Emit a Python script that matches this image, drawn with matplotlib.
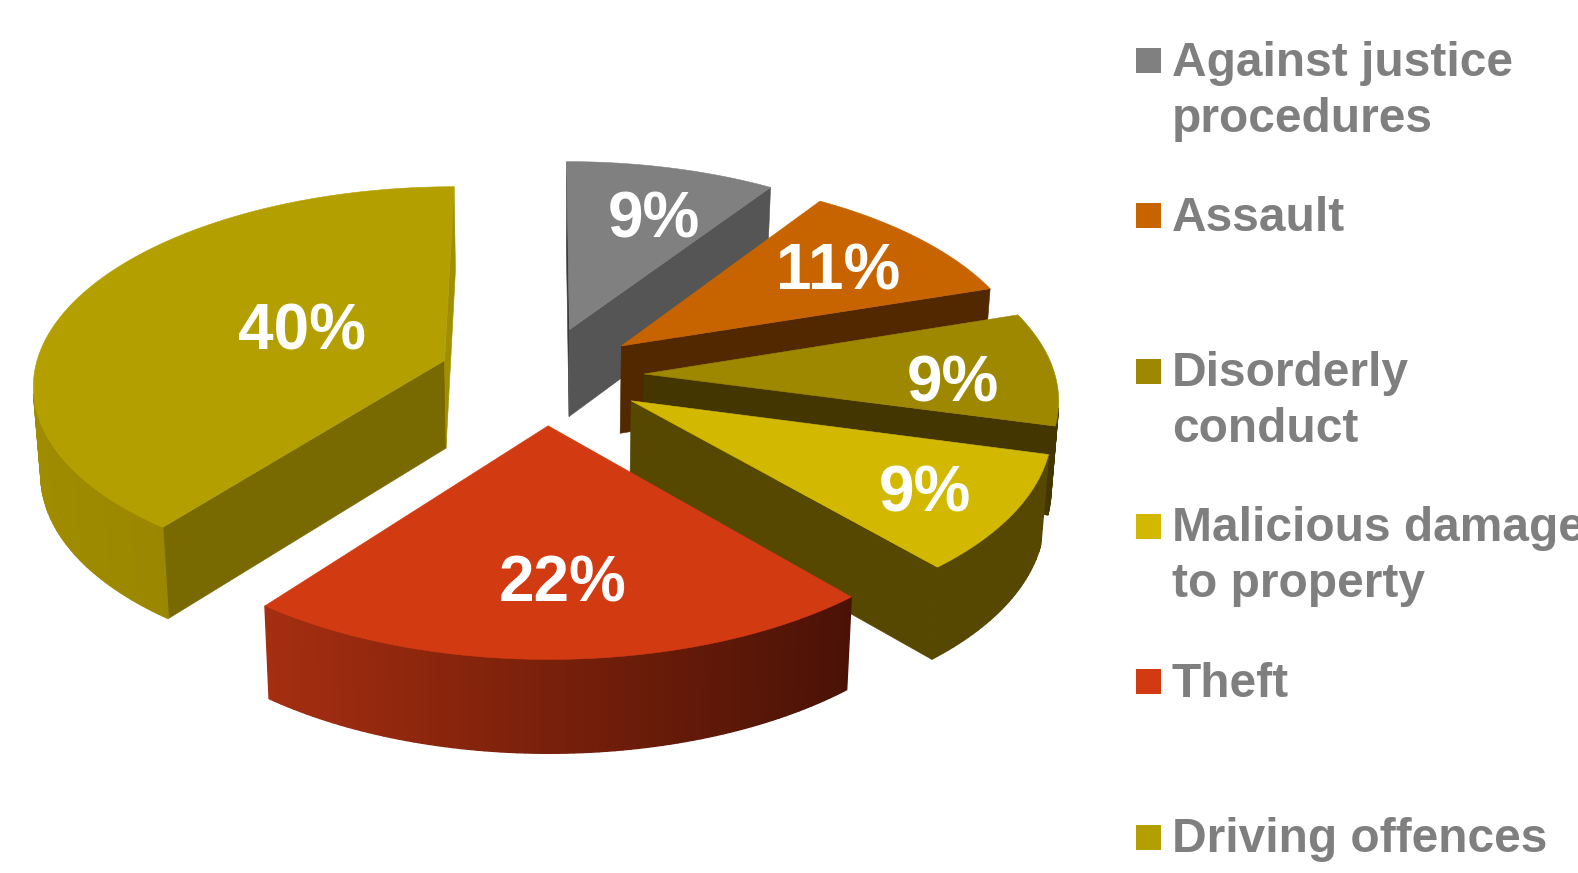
import numpy as np
import matplotlib
matplotlib.use("Agg")
import matplotlib.pyplot as plt
from matplotlib.colors import to_rgb
from matplotlib.patches import Polygon, Rectangle

W, H = 1578, 873

categories = [
    "Against justice\nprocedures",
    "Assault",
    "Disorderly\nconduct",
    "Malicious damage\nto property",
    "Theft",
    "Driving offences",
]
shares = [9, 11, 9, 9, 22, 40]

top_colors = ["#808080", "#C86400", "#9E8800", "#D2B900", "#D23A12", "#B3A000"]
start_face_colors = ["#3A3A3A", "#522800", "#433600", "#564800", "#4A1206", "#786A00"]
end_face_colors = ["#555555", "#522800", "#433600", "#564800", "#A42C10", "#A09000"]
rim_left_colors = ["#555555", "#522800", "#433600", "#564800", "#A62E10", "#A08C00"]
rim_right_colors = ["#555555", "#522800", "#433600", "#564800", "#4A1206", "#8E7D00"]

# pixel centres of the percentage labels
label_xy = [(654, 220), (838, 273), (953, 384), (925, 494), (563, 584), (302, 333)]

# perspective camera for the tilted pie
X0, Y0 = 541.5, 375.5
SCALE_X, SCALE_Y = 411.0, 196.0
DEPTH = 0.11
EXPLODE = 0.25
THICK = 88.0
THICK_SHRINK = 0.985
LEGEND_SIZE = 34.5
# clockwise drag of the rim at each slice boundary, in degrees
LENS_TWIST = [0, 1.2, -0.2, 0.6, 2.3, 1.7, 0]

edges = np.radians(np.cumsum([0] + shares) * 360 / sum(shares))


def project(u, v, z=0.0):
    w = 1 + DEPTH * v
    x = u * SCALE_X / w
    y = -v * SCALE_Y / w + z * THICK / (1 + 0.05 * v)
    x = x * (1 - (1 - THICK_SHRINK) * z)
    return X0 + x, Y0 + y


def slice_point(theta, r, mid):
    # angles run clockwise from the back of the pie
    theta = theta + np.radians(np.interp(theta, edges, LENS_TWIST))
    u = EXPLODE * np.sin(mid) + r * np.sin(theta)
    v = EXPLODE * np.cos(mid) + r * np.cos(theta)
    return u, v


def draw_quad(ax, a, b, color, zorder, lw=0.4):
    pts = [project(*a), project(*b), project(*b, 1), project(*a, 1)]
    xs, ys = zip(*pts)
    area = sum(xs[i] * ys[(i + 1) % 4] - xs[(i + 1) % 4] * ys[i] for i in range(4))
    if area >= 0:
        return
    ax.add_patch(Polygon(pts, closed=True, fc=color, ec=color, lw=lw, zorder=zorder))


def draw_slice(ax, i, start, end):
    mid = (start + end) / 2
    apex = slice_point(0, 0, mid)
    thetas = np.linspace(start, end, max(int(np.degrees(end - start)), 8) + 1)
    rim = [slice_point(t, 1, mid) for t in thetas]
    z = 10 + i

    draw_quad(ax, apex, rim[0], start_face_colors[i], z)
    draw_quad(ax, rim[-1], apex, end_face_colors[i], z)

    # outer wall, shaded strip by strip from left to right on screen
    left = np.array(to_rgb(rim_left_colors[i]))
    right = np.array(to_rgb(rim_right_colors[i]))
    xs = [project(*p)[0] for p in rim]
    x_min, x_max = min(xs), max(xs)
    for a, b in zip(rim[:-1], rim[1:]):
        t = (project(*a)[0] - x_min) / max(x_max - x_min, 1)
        draw_quad(ax, a, b, tuple(left + (right - left) * t), z, lw=1.0)

    outline = [project(*apex)] + [project(*p) for p in rim]
    ax.add_patch(Polygon(outline, closed=True, fc=top_colors[i], ec=top_colors[i],
                         lw=0.4, zorder=z + 0.5))


def draw_legend(ax):
    for i, name in enumerate(categories):
        top = 48 + 155.3 * i
        ax.add_patch(Rectangle((1136, top), 25, 25, fc=top_colors[i], ec="none"))
        for j, line in enumerate(name.split("\n")):
            ax.text(1172, top + 27.5 + 56 * j, line, color="#7F7F7F", fontsize=LEGEND_SIZE,
                    fontweight="bold", family="Liberation Sans", va="baseline", ha="left")


def main():
    fig = plt.figure(figsize=(W / 100, H / 100), dpi=100)
    ax = fig.add_axes([0, 0, 1, 1])
    ax.set_xlim(0, W)
    ax.set_ylim(H, 0)
    ax.axis("off")

    for i in range(len(shares)):
        draw_slice(ax, i, edges[i], edges[i + 1])
        x, y = label_xy[i]
        ax.text(x, y, f"{shares[i]}%", color="white", fontsize=46, fontweight="bold",
                family="Liberation Sans", ha="center", va="center", zorder=30)

    draw_legend(ax)
    fig.savefig("out.png", dpi=100, facecolor="white")
    plt.close(fig)


if __name__ == "__main__":
    main()
